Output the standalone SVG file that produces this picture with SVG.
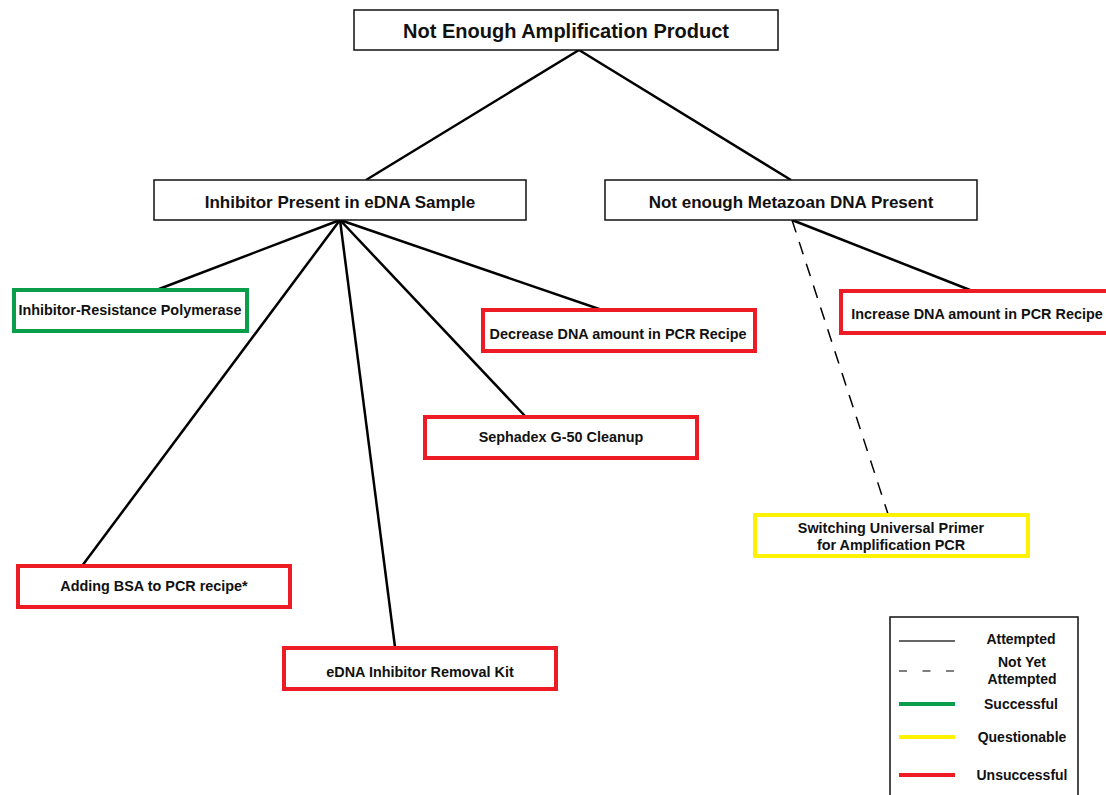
<svg xmlns="http://www.w3.org/2000/svg" width="1106" height="795" viewBox="0 0 1106 795">
<style>
.t{font-family:"Liberation Sans",Arial,sans-serif;font-weight:bold;fill:#111;text-anchor:middle}
.plain{fill:#fff;stroke:#111;stroke-width:1.5}
.red{fill:#fff;stroke:#ed1c24;stroke-width:4}
.green{fill:#fff;stroke:#0a9e4a;stroke-width:4}
.yellow{fill:#fff;stroke:#fff200;stroke-width:4}
.c{stroke:#000;stroke-width:2.5;fill:none}
.d{stroke:#000;stroke-width:1.5;fill:none;stroke-dasharray:13 10}
</style>
<rect width="1106" height="795" fill="#fff"/>
<g id="connectors">
<line class="c" x1="579" y1="50" x2="366" y2="180"/>
<line class="c" x1="579" y1="50" x2="791" y2="180"/>
<line class="c" x1="340" y1="220" x2="159" y2="289"/>
<line class="c" x1="340" y1="220" x2="82" y2="566"/>
<line class="c" x1="340" y1="220" x2="395" y2="647"/>
<line class="c" x1="340" y1="220" x2="525" y2="416"/>
<line class="c" x1="340" y1="220" x2="602" y2="310"/>
<line class="c" x1="792" y1="220" x2="970" y2="290"/>
<line class="d" x1="792" y1="220" x2="888" y2="514"/>
</g>
<g id="n-root"><rect class="plain" x="354" y="10" width="424" height="40"/><text class="t" x="566" y="38" font-size="20">Not Enough Amplification Product</text></g>
<g id="n-inhibitor"><rect class="plain" x="154" y="180" width="372" height="40"/><text class="t" x="340" y="208" font-size="17">Inhibitor Present in eDNA Sample</text></g>
<g id="n-metazoan"><rect class="plain" x="605" y="180" width="372" height="40"/><text class="t" x="791" y="208" font-size="17">Not enough Metazoan DNA Present</text></g>
<g id="n-polymerase"><rect class="green" x="14" y="290" width="233" height="41"/><text class="t" x="130" y="315" font-size="14.4">Inhibitor-Resistance Polymerase</text></g>
<g id="n-decrease"><rect class="red" x="483" y="310" width="272" height="41"/><text class="t" x="618" y="339" font-size="14.4">Decrease DNA amount in PCR Recipe</text></g>
<g id="n-increase"><rect class="red" x="841" y="291" width="270" height="42"/><text class="t" x="977" y="319" font-size="14.4">Increase DNA amount in PCR Recipe</text></g>
<g id="n-sephadex"><rect class="red" x="425" y="417" width="272" height="41"/><text class="t" x="561" y="442" font-size="14.4">Sephadex G-50 Cleanup</text></g>
<g id="n-switching"><rect class="yellow" x="755" y="515" width="273" height="41"/><text class="t" x="891" y="533" font-size="14.4">Switching Universal Primer</text><text class="t" x="891" y="550" font-size="14.4">for Amplification PCR</text></g>
<g id="n-bsa"><rect class="red" x="18" y="566" width="272" height="41"/><text class="t" x="154" y="591" font-size="14.4">Adding BSA to PCR recipe*</text></g>
<g id="n-kit"><rect class="red" x="284" y="648" width="272" height="41"/><text class="t" x="420" y="677" font-size="14.4">eDNA Inhibitor Removal Kit</text></g>
<g id="legend">
<rect x="890" y="617" width="188" height="190" fill="#fff" stroke="#111" stroke-width="1.5"/>
<line x1="899" y1="641" x2="955" y2="641" stroke="#333" stroke-width="1.5"/>
<line x1="899" y1="671" x2="955" y2="671" stroke="#555" stroke-width="1.5" stroke-dasharray="8 15.5"/>
<line x1="899" y1="704" x2="955" y2="704" stroke="#0a9e4a" stroke-width="4"/>
<line x1="899" y1="737" x2="955" y2="737" stroke="#fff200" stroke-width="4"/>
<line x1="899" y1="775" x2="955" y2="775" stroke="#ed1c24" stroke-width="4"/>
<text class="t" x="1021" y="644" font-size="14">Attempted</text>
<text class="t" x="1022" y="667" font-size="14">Not Yet</text>
<text class="t" x="1022" y="684" font-size="14">Attempted</text>
<text class="t" x="1021" y="709" font-size="14">Successful</text>
<text class="t" x="1022" y="742" font-size="14">Questionable</text>
<text class="t" x="1022" y="780" font-size="14">Unsuccessful</text>
</g>
</svg>
